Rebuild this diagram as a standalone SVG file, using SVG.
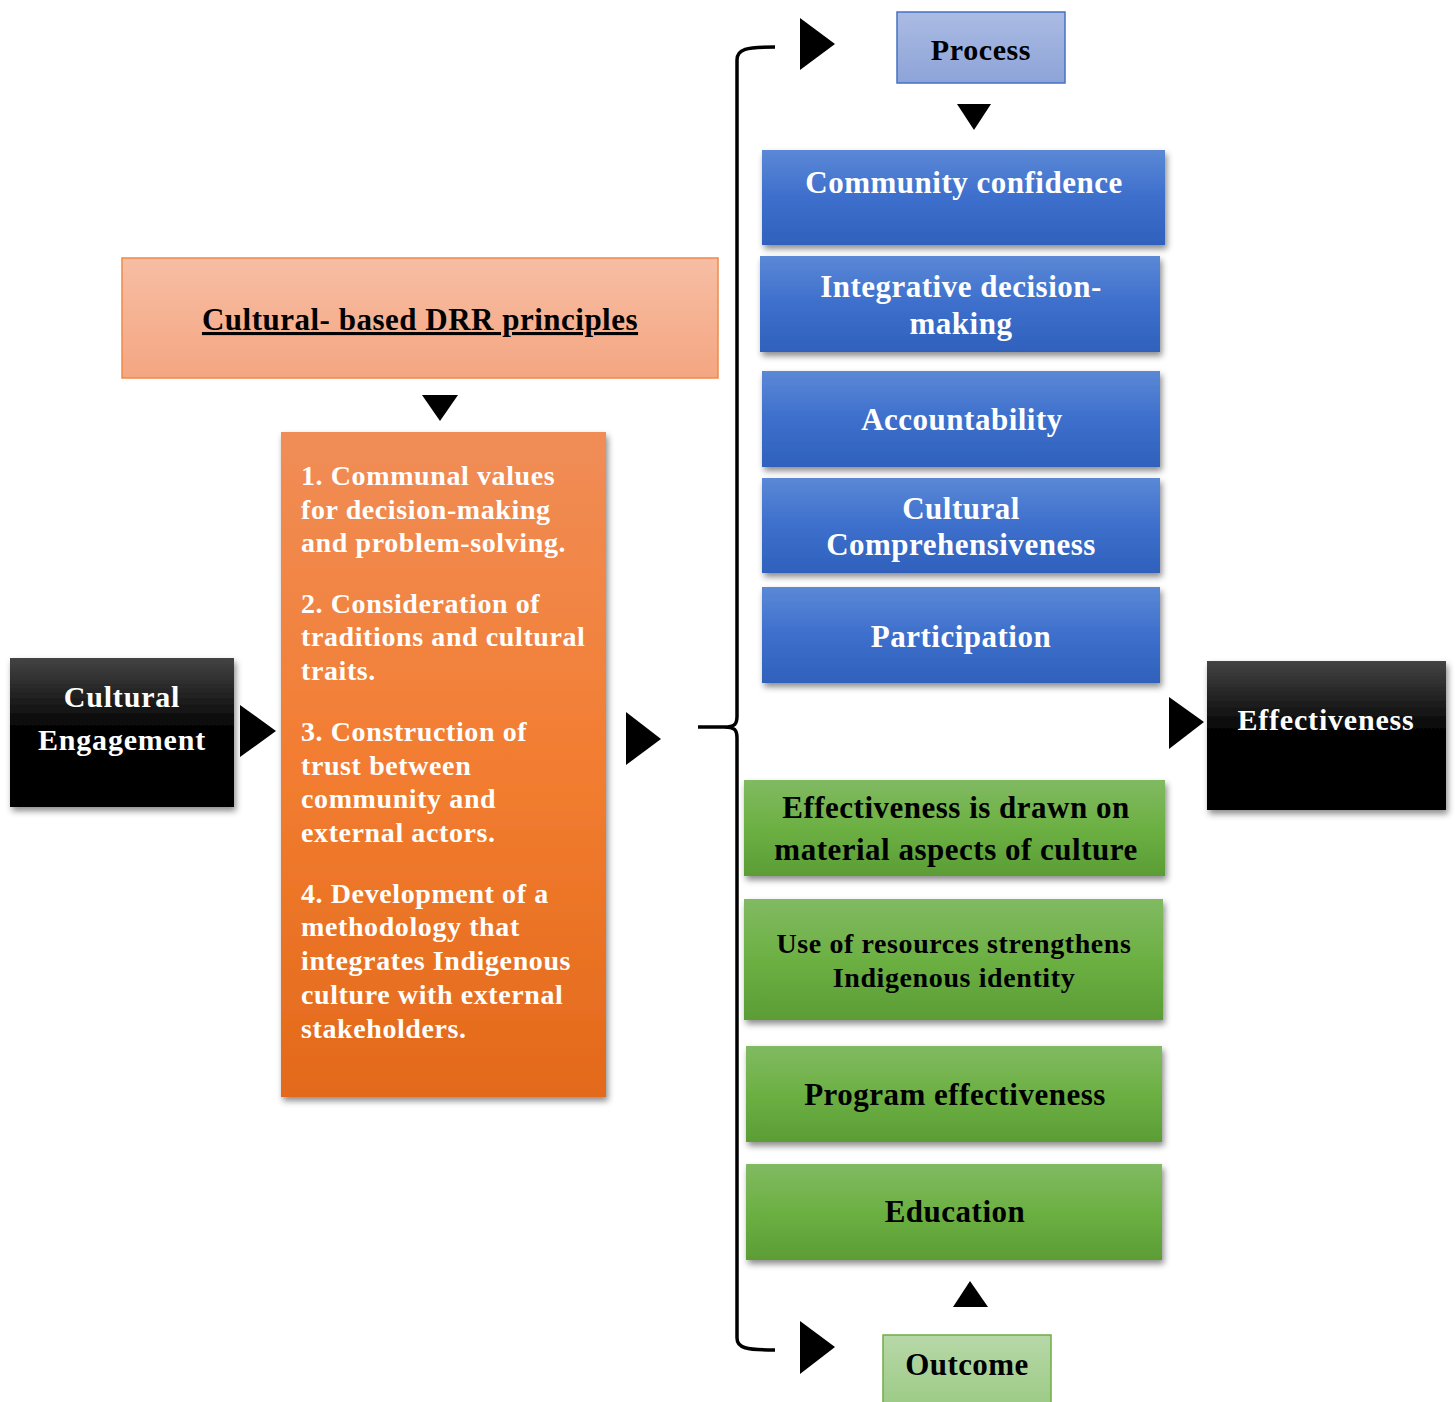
<svg xmlns="http://www.w3.org/2000/svg" width="1455" height="1402" viewBox="0 0 1455 1402">
<defs>
<linearGradient id="gBlue" x1="0" y1="0" x2="0" y2="1"><stop offset="0" stop-color="#5b88d6"/><stop offset="0.5" stop-color="#3d6fcc"/><stop offset="1" stop-color="#2f61bc"/></linearGradient>
<linearGradient id="gGreen" x1="0" y1="0" x2="0" y2="1"><stop offset="0" stop-color="#81ba62"/><stop offset="0.5" stop-color="#6cb043"/><stop offset="1" stop-color="#5b9d35"/></linearGradient>
<linearGradient id="gBlack" x1="0" y1="0" x2="0" y2="1"><stop offset="0" stop-color="#444"/><stop offset="0.5" stop-color="#000"/><stop offset="1" stop-color="#000"/></linearGradient>
<linearGradient id="gProc" x1="0" y1="0" x2="0" y2="1"><stop offset="0" stop-color="#abbbe3"/><stop offset="1" stop-color="#8da4d8"/></linearGradient>
<linearGradient id="gOut" x1="0" y1="0" x2="0" y2="1"><stop offset="0" stop-color="#b7d8a8"/><stop offset="1" stop-color="#9dcb86"/></linearGradient>
<linearGradient id="gPeach" x1="0" y1="0" x2="0" y2="1"><stop offset="0" stop-color="#f7bea4"/><stop offset="1" stop-color="#f4a681"/></linearGradient>
<linearGradient id="gOrange" x1="0" y1="0" x2="0" y2="1"><stop offset="0" stop-color="#f08d57"/><stop offset="0.5" stop-color="#f27d31"/><stop offset="1" stop-color="#e3691a"/></linearGradient>
<filter id="sh" x="-10%" y="-10%" width="125%" height="130%"><feDropShadow dx="2" dy="4" stdDeviation="3" flood-color="#000" flood-opacity="0.45"/></filter>
</defs>
<style>
text{font-family:"Liberation Serif","Times New Roman",serif;font-weight:bold;}
.w{fill:#fff;}
.k{fill:#000;}
.c{text-anchor:middle;}
.tri{fill:#000;}
.br{fill:none;stroke:#000;stroke-width:3.5;}
.blue{font-size:31px;letter-spacing:0.5px;}
.grn{font-size:31px;letter-spacing:0.5px;}
.blk{font-size:30px;letter-spacing:0.8px;}
.org{font-size:28px;letter-spacing:0.6px;}
</style>
<g id="connectors">
<path class="br" d="M775,47 C746,47 737,49 737,60 L737,716 C737,724 735,727 724,727 L698,727 M724,727 C735,727 737,730 737,738 L737,1338 C737,1348 746,1350 775,1350"/>
<polygon class="tri" points="800,18 800,70 835,44"/>
<polygon class="tri" points="957,104 991,104 974,130"/>
<polygon class="tri" points="626,712 626,765 661,739"/>
<polygon class="tri" points="240,705 240,757 276,731"/>
<polygon class="tri" points="1169,697 1169,749 1204,722"/>
<polygon class="tri" points="422,395 458,395 440,421"/>
<polygon class="tri" points="953,1307 988,1307 970,1281"/>
<polygon class="tri" points="800,1321 800,1374 835,1347"/>
</g>
<g id="process">
<rect x="897" y="12" width="168" height="71" fill="url(#gProc)" stroke="#4472c4" stroke-width="1.5"/>
<text class="k c" x="981" y="60" font-size="30" letter-spacing="0.6">Process</text>
</g>
<g id="community-confidence">
<rect x="762" y="150" width="403" height="95" fill="url(#gBlue)" filter="url(#sh)"/>
<text class="w c blue" x="964" y="193">Community confidence</text>
</g>
<g id="integrative">
<rect x="760" y="256" width="400" height="96" fill="url(#gBlue)" filter="url(#sh)"/>
<text class="w c blue" x="961" y="297">Integrative decision-</text>
<text class="w c blue" x="961" y="334">making</text>
</g>
<g id="accountability">
<rect x="762" y="371" width="398" height="96" fill="url(#gBlue)" filter="url(#sh)"/>
<text class="w c blue" x="962" y="430">Accountability</text>
</g>
<g id="cultural-comprehensiveness">
<rect x="762" y="478" width="398" height="95" fill="url(#gBlue)" filter="url(#sh)"/>
<text class="w c blue" x="961" y="519">Cultural</text>
<text class="w c blue" x="961" y="555">Comprehensiveness</text>
</g>
<g id="participation">
<rect x="762" y="587" width="398" height="96" fill="url(#gBlue)" filter="url(#sh)"/>
<text class="w c blue" x="961" y="647">Participation</text>
</g>
<g id="material-aspects">
<rect x="744" y="780" width="421" height="96" fill="url(#gGreen)" filter="url(#sh)"/>
<text class="k c grn" x="956" y="818">Effectiveness is drawn on</text>
<text class="k c grn" x="956" y="860">material aspects of culture</text>
</g>
<g id="use-of-resources">
<rect x="744" y="899" width="419" height="121" fill="url(#gGreen)" filter="url(#sh)"/>
<text class="k c" x="954" y="953" font-size="28" letter-spacing="0.6">Use of resources strengthens</text>
<text class="k c" x="954" y="987" font-size="28" letter-spacing="0.6">Indigenous identity</text>
</g>
<g id="program-effectiveness">
<rect x="746" y="1046" width="416" height="96" fill="url(#gGreen)" filter="url(#sh)"/>
<text class="k c grn" x="955" y="1105">Program effectiveness</text>
</g>
<g id="education">
<rect x="746" y="1164" width="416" height="96" fill="url(#gGreen)" filter="url(#sh)"/>
<text class="k c grn" x="955" y="1222">Education</text>
</g>
<g id="outcome">
<rect x="883" y="1335" width="168" height="70" fill="url(#gOut)" stroke="#70ad47" stroke-width="1.5"/>
<text class="k c" x="967" y="1375" font-size="31" letter-spacing="0.4">Outcome</text>
</g>
<g id="cultural-engagement">
<rect x="10" y="658" width="224" height="149" fill="url(#gBlack)" filter="url(#sh)"/>
<text class="w c blk" x="122" y="707">Cultural</text>
<text class="w c blk" x="122" y="750">Engagement</text>
</g>
<g id="effectiveness">
<rect x="1207" y="661" width="239" height="149" fill="url(#gBlack)" filter="url(#sh)"/>
<text class="w c blk" x="1326" y="730">Effectiveness</text>
</g>
<g id="drr-principles">
<rect x="122" y="258" width="596" height="120" fill="url(#gPeach)" stroke="#f0894a" stroke-width="1.5"/>
<text class="k c" x="420" y="330" font-size="31" letter-spacing="0.5" text-decoration="underline">Cultural- based DRR principles</text>
</g>
<g id="principles-list">
<rect x="281" y="432" width="325" height="665" fill="url(#gOrange)" filter="url(#sh)"/>
<g class="org">
<text class="w" x="301" y="485">1. Communal values</text>
<text class="w" x="301" y="519">for decision-making</text>
<text class="w" x="301" y="552">and problem-solving.</text>
<text class="w" x="301" y="613">2. Consideration of</text>
<text class="w" x="301" y="646">traditions and cultural</text>
<text class="w" x="301" y="680">traits.</text>
<text class="w" x="301" y="741">3. Construction of</text>
<text class="w" x="301" y="775">trust between</text>
<text class="w" x="301" y="808">community and</text>
<text class="w" x="301" y="842">external actors.</text>
<text class="w" x="301" y="903">4. Development of a</text>
<text class="w" x="301" y="936">methodology that</text>
<text class="w" x="301" y="970">integrates Indigenous</text>
<text class="w" x="301" y="1004">culture with external</text>
<text class="w" x="301" y="1038">stakeholders.</text>
</g>
</g>
</svg>
